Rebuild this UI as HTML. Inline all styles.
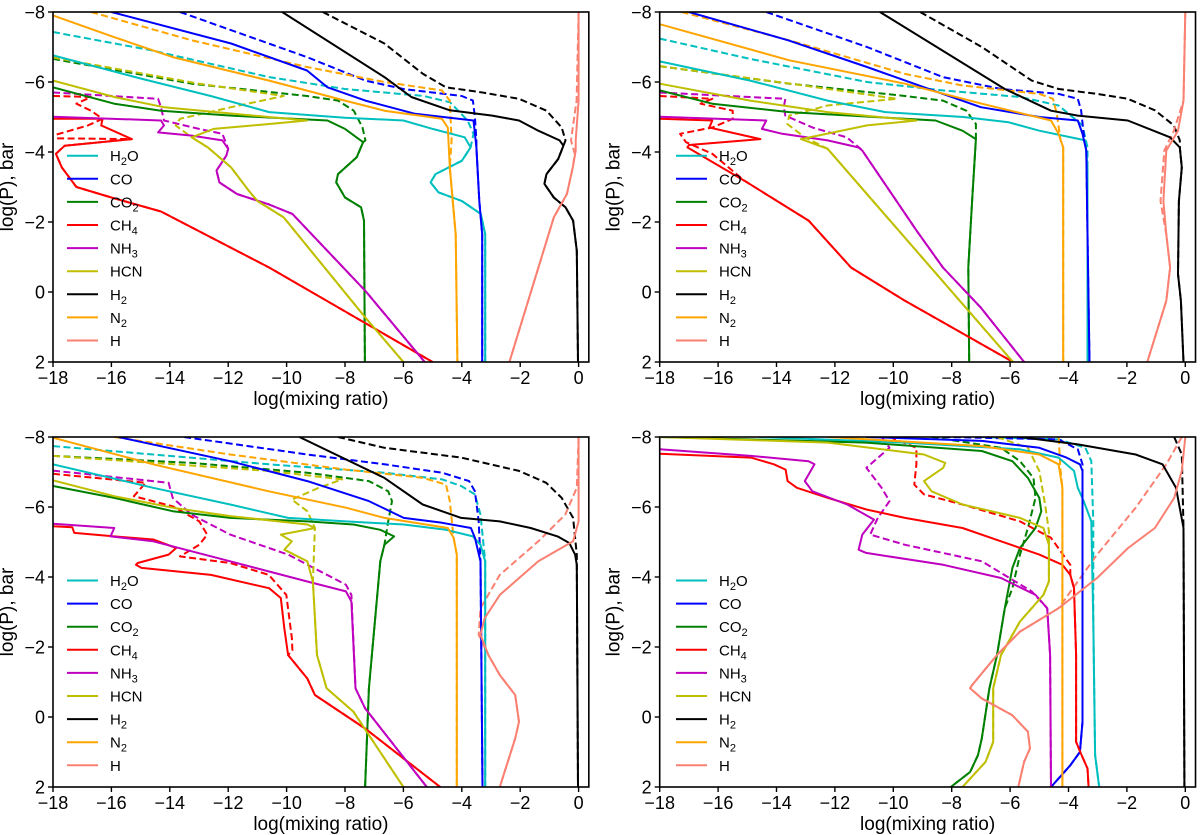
<!DOCTYPE html>
<html><head><meta charset="utf-8"><style>
html,body{margin:0;padding:0;background:#fff;}
svg{display:block;font-family:"Liberation Sans",sans-serif;}
</style></head><body>
<svg id="fig" width="1200" height="835" viewBox="0 0 1200 835"></svg>
<script>
const speciesNames = ['H2O','CO','CO2','CH4','NH3','HCN','H2','N2','H'];
const speciesColors = ['#00bfbf','#0000ff','#008000','#ff0000','#bf00bf','#bfbf00','#000000','#ffa500','#fa8072'];
const xTicks = [-18,-16,-14,-12,-10,-8,-6,-4,-2,0];
const yTicks = [-8,-6,-4,-2,0,2];

const aSolid = {
H2O:[[-18,-6.76],[-15,-6.1],[-12.6,-5.6],[-10.6,-5.14],[-8,-4.98],[-6,-4.9],[-5,-4.66],[-3.9,-4.42],[-3.7,-4.13],[-4,-3.75],[-4.9,-3.37],[-5.07,-3.13],[-4.8,-2.85],[-4,-2.6],[-3.35,-2.23],[-3.2,-1.65],[-3.2,2]],
CO:[[-16,-8],[-11.9,-7.1],[-9.3,-6.33],[-8.6,-5.85],[-7.3,-5.47],[-5.6,-5.09],[-3.6,-4.9],[-3.5,-4.13],[-3.4,-2.6],[-3.3,-1.65],[-3.3,2]],
CO2:[[-18,-5.85],[-15.9,-5.38],[-14.3,-5.18],[-11.9,-5.04],[-8.6,-4.9],[-8,-4.66],[-7.38,-4.28],[-7.6,-3.85],[-8.24,-3.37],[-8.3,-3.13],[-8,-2.7],[-7.45,-2.42],[-7.35,-2.04],[-7.32,2]],
CH4:[[-18,-4.95],[-16.3,-4.95],[-16.35,-4.76],[-15.3,-4.37],[-17.6,-4.18],[-17.9,-3.95],[-17.7,-3.56],[-17.2,-3.0],[-16,-2.7],[-14.3,-2.3],[-10.6,-0.7],[-5,2]],
NH3:[[-18,-5.01],[-14.3,-4.9],[-14.2,-4.76],[-14.4,-4.56],[-13.25,-4.47],[-12.2,-4.33],[-12,-4.09],[-12.06,-3.9],[-12.4,-3.47],[-12.3,-3.13],[-11.7,-2.8],[-10.6,-2.5],[-9.8,-2.23],[-7.3,-0.03],[-5.27,2]],
HCN:[[-18,-6.04],[-15.9,-5.57],[-14.2,-5.28],[-11.9,-5.1],[-9.3,-4.9],[-10.6,-4.8],[-12.5,-4.66],[-13.25,-4.42],[-12.7,-4.13],[-11.9,-3.56],[-11.3,-2.9],[-11,-2.6],[-10.1,-2.13],[-7.3,0.73],[-6,2]],
H2:[[-10.15,-8],[-6.65,-6.14],[-5.73,-5.57],[-4.41,-5.19],[-2.96,-5.04],[-2.04,-4.9],[-1.38,-4.61],[-0.65,-4.33],[-0.52,-4.18],[-0.7,-3.8],[-1.1,-3.37],[-1.17,-3.09],[-0.85,-2.7],[-0.45,-2.42],[-0.19,-2.04],[-0.06,-1.18],[-0.02,2]],
N2:[[-18,-7.9],[-15.9,-7.28],[-13.9,-6.71],[-10.6,-6.04],[-8,-5.47],[-6.65,-5.18],[-4.68,-4.95],[-4.48,-4.7],[-4.41,-3.56],[-4.21,-1.65],[-4.15,2]],
H:[[0,-8],[0,-5.47],[-0.1,-4.33],[-0.1,-4.04],[-0.2,-3.56],[-0.4,-2.8],[-0.85,-2.13],[-2.37,2]]
};
const aDashed = {
H2O:[[-18,-7.43],[-14.6,-6.9],[-10.6,-6.14],[-8,-5.8],[-5.3,-5.6],[-4.4,-5.42],[-3.8,-4.9],[-3.6,-4.52],[-3.7,-4.13]],
CO:[[-13.65,-8],[-9.3,-6.71],[-7.3,-6.04],[-6,-5.8],[-4,-5.6],[-3.62,-5.47],[-3.55,-5.0],[-3.5,-4.33]],
CO2:[[-18,-6.66],[-13.25,-5.95],[-9.3,-5.6],[-8.24,-5.47],[-7.7,-5.18],[-7.4,-4.7],[-7.3,-4.33],[-7.38,-4.28]],
CH4:[[-18,-5.6],[-16.7,-5.57],[-17.2,-5.38],[-16.7,-5.18],[-16.3,-4.95],[-16.8,-4.76],[-18,-4.47],[-19,-4.4]],
NH3:[[-18,-5.7],[-14.4,-5.52],[-14.3,-5.28],[-14.2,-4.9],[-13,-4.66],[-12.2,-4.52],[-12,-4.09]],
HCN:[[-18,-6.7],[-13,-5.95],[-10.1,-5.6],[-11.9,-5.28],[-13.65,-4.95],[-13.8,-4.76],[-13.25,-4.42]],
H2:[[-8.76,-8],[-6.65,-7.1],[-5.33,-6.23],[-4.54,-5.85],[-3.36,-5.71],[-2.04,-5.52],[-1.1,-5.18],[-0.58,-4.7],[-0.45,-4.33],[-0.52,-4.18]],
N2:[[-16.7,-8],[-13.25,-7.19],[-9.3,-6.43],[-6.65,-6.0],[-4.68,-5.76],[-4.41,-5.47],[-4.35,-4.33],[-4.41,-3.56]],
H:[[0,-8],[-0.07,-5.47],[-0.2,-4.7],[-0.26,-4.33],[-0.13,-3.95],[-0.2,-3.56]]
};
const bSolid = {
H2O:[[-18,-6.59],[-14.9,-6.04],[-12.25,-5.47],[-10.27,-5.14],[-7.6,-5.0],[-6.05,-4.85],[-5,-4.61],[-3.42,-4.33],[-3.35,-3.56],[-3.35,2]],
CO:[[-17,-8],[-13.6,-7.19],[-10.9,-6.43],[-8.3,-5.66],[-7,-5.28],[-5,-5.0],[-3.68,-4.9],[-3.52,-4.52],[-3.39,-4.04],[-3.35,-1.65],[-3.28,2]],
CO2:[[-18,-5.76],[-16.2,-5.38],[-13.56,-5.14],[-8.55,-4.9],[-7.63,-4.61],[-7.17,-4.37],[-7.3,-2.6],[-7.43,-0.7],[-7.4,2]],
CH4:[[-18,-4.95],[-16.2,-4.9],[-16.3,-4.7],[-14.55,-4.37],[-17,-4.2],[-17.05,-4.13],[-15.1,-3.18],[-12.9,-2.04],[-11.45,-0.7],[-9.6,0.25],[-5.9,2]],
NH3:[[-18,-5.01],[-14.35,-4.9],[-14.5,-4.66],[-13.8,-4.52],[-12.25,-4.33],[-11.2,-4.13],[-11.06,-4.04],[-9.2,-1.75],[-8.3,-0.7],[-7,0.45],[-5.52,2]],
HCN:[[-18,-5.95],[-14.9,-5.47],[-12.25,-5.14],[-9.2,-4.9],[-10.9,-4.76],[-13.16,-4.37],[-12.25,-4.09],[-5.9,2]],
H2:[[-10.46,-8],[-6.18,-5.8],[-4.6,-5.18],[-3.68,-5.04],[-1.97,-4.9],[-0.52,-4.42],[-0.19,-4.13],[-0.12,-3.56],[-0.22,-2.6],[-0.25,-0.51],[-0.15,0.25],[-0.06,2]],
N2:[[-18,-7.65],[-13.56,-6.62],[-9.6,-5.95],[-6.97,-5.38],[-4.6,-4.9],[-4.34,-4.52],[-4.18,-4.13],[-4.18,2]],
H:[[0,-8],[-0.06,-5.47],[-0.25,-4.61],[-0.65,-4.04],[-0.75,-2.6],[-0.65,-1.65],[-0.52,-0.7],[-0.65,0.25],[-1.3,2]]
};
const bDashed = {
H2O:[[-18,-7.24],[-14.9,-6.66],[-10.9,-6.0],[-8.3,-5.76],[-5.65,-5.57],[-4.34,-5.33],[-3.52,-4.76],[-3.35,-4.13]],
CO:[[-14.35,-8],[-10.9,-7.0],[-8.3,-6.14],[-6.3,-5.8],[-4.34,-5.66],[-3.68,-5.52],[-3.57,-5.19],[-3.48,-4.52],[-3.39,-4.04]],
CO2:[[-18,-6.45],[-13.56,-5.95],[-9.6,-5.6],[-8.3,-5.47],[-7.5,-5.18],[-7.17,-4.8],[-7.17,-4.37]],
CH4:[[-18,-5.6],[-16.2,-5.52],[-16.6,-5.38],[-15.5,-5.18],[-15.5,-4.95],[-16.2,-4.7],[-17.3,-4.52],[-17.1,-4.28],[-16.2,-3.95]],
NH3:[[-18,-5.7],[-13.7,-5.52],[-13.75,-5.28],[-13.7,-5.04],[-12.77,-4.7],[-11.6,-4.42],[-11.12,-4.09]],
HCN:[[-18,-6.45],[-13.5,-5.95],[-9.87,-5.52],[-12.25,-5.33],[-13.56,-5.04],[-13.63,-4.8],[-13.03,-4.42],[-12.25,-4.09]],
H2:[[-9.08,-8],[-6.97,-7.0],[-5.26,-6.04],[-4.34,-5.8],[-3.02,-5.66],[-1.97,-5.52],[-1.04,-5.19],[-0.39,-4.76],[-0.19,-4.33],[-0.19,-4.13]],
N2:[[-17.25,-8],[-13.56,-7.19],[-9.6,-6.23],[-7.63,-5.9],[-5,-5.66],[-4.53,-5.52],[-4.4,-5.09],[-4.27,-4.33],[-4.18,-4.13]],
H:[[0,-8],[-0.06,-5.47],[-0.39,-4.61],[-0.72,-4.04],[-0.85,-2.6]]
};
const cSolid = {
H2O:[[-18,-7.22],[-14.57,-6.55],[-11.93,-6.07],[-9.95,-5.69],[-7.97,-5.59],[-5.99,-5.5],[-4.54,-5.35],[-3.62,-5.16],[-3.36,-4.92],[-3.2,-4.45],[-3.2,2]],
CO:[[-15.76,-8],[-11.93,-7.31],[-9.29,-6.74],[-7.18,-6.17],[-5.99,-5.69],[-4.67,-5.55],[-3.69,-5.4],[-3.55,-5.12],[-3.36,-4.45],[-3.29,2]],
CO2:[[-18,-6.6],[-15.9,-6.26],[-13.9,-5.88],[-11.93,-5.69],[-9.29,-5.59],[-7.71,-5.5],[-6.79,-5.35],[-6.32,-5.16],[-6.65,-4.92],[-6.79,-4.45],[-7.18,-0.82],[-7.31,2]],
CH4:[[-18,-5.45],[-17.34,-5.42],[-17.27,-5.26],[-15.9,-5.16],[-14.57,-5.07],[-13.78,-4.83],[-14.04,-4.64],[-15.1,-4.4],[-15.16,-4.35],[-14.97,-4.26],[-12.59,-4.06],[-10.6,-3.68],[-10.2,-3.4],[-10.08,-2.54],[-9.95,-1.77],[-9.29,-1.1],[-9.03,-0.63],[-7.31,0.33],[-4.74,2]],
NH3:[[-18,-5.52],[-15.9,-5.4],[-16.03,-5.16],[-14.57,-5.02],[-11.93,-4.45],[-9.29,-3.87],[-7.97,-3.59],[-7.78,-3.3],[-7.64,-0.82],[-7.31,-0.25],[-5.2,2]],
HCN:[[-18,-6.76],[-15.9,-6.31],[-13.9,-5.98],[-11.93,-5.74],[-9.29,-5.5],[-9.03,-5.4],[-10.2,-5.21],[-9.82,-5.02],[-10.08,-4.78],[-9.29,-4.45],[-9.1,-3.87],[-8.96,-1.77],[-8.63,-0.82],[-7.71,-0.15],[-6,2]],
H2:[[-9.56,-8],[-6.65,-6.83],[-5.34,-6.07],[-4.02,-5.69],[-2.7,-5.59],[-1.64,-5.4],[-0.72,-5.16],[-0.32,-4.97],[-0.12,-4.64],[-0.06,-4.35],[-0.02,2]],
N2:[[-18,-7.98],[-14.57,-7.22],[-10.61,-6.45],[-7.97,-5.98],[-6.65,-5.69],[-4.48,-5.4],[-4.28,-5.12],[-4.17,-4.64],[-4.17,2]],
H:[[0,-8],[0,-5.59],[-0.19,-5.02],[-1.38,-4.45],[-2.7,-3.49],[-3.22,-2.82],[-3.36,-2.35],[-3.09,-1.77],[-2.7,-1.2],[-2.17,-0.63],[-2.04,0.14],[-2.17,0.61],[-2.7,2]]
};
const cDashed = {
H2O:[[-18,-7.74],[-14.57,-7.5],[-10.61,-7.22],[-6.65,-6.98],[-4.67,-6.79],[-4.02,-6.6],[-3.55,-6.36],[-3.36,-5.78],[-3.2,-4.45]],
CO:[[-13.51,-8],[-9.29,-7.5],[-6.65,-7.22],[-4.67,-6.98],[-3.75,-6.74],[-3.55,-6.45],[-3.42,-5.59],[-3.36,-4.45]],
CO2:[[-18,-7.46],[-13.25,-7.26],[-9.29,-6.98],[-7.18,-6.74],[-6.52,-6.45],[-6.39,-6.17],[-6.52,-5.59],[-6.65,-4.92]],
CH4:[[-18,-6.95],[-14.83,-6.69],[-15.23,-6.31],[-13.9,-6.02],[-12.99,-5.59],[-12.72,-5.21],[-12.99,-4.92],[-13.65,-4.59],[-11.93,-4.4],[-10.61,-4.06],[-10.01,-3.49],[-9.82,-2.25],[-9.8,-1.9]],
NH3:[[-18,-7.04],[-14.04,-6.69],[-13.9,-6.26],[-13.25,-5.78],[-11.93,-5.21],[-9.95,-4.64],[-7.97,-3.78],[-7.78,-3.49],[-7.64,-0.82]],
HCN:[[-18,-7.46],[-10.61,-7.03],[-8.1,-6.79],[-8.9,-6.55],[-9.82,-6.21],[-9.29,-5.88],[-9.03,-5.4],[-9.1,-3.87]],
H2:[[-8.24,-8],[-6.65,-7.69],[-4.02,-7.41],[-2.04,-7.03],[-1.11,-6.69],[-0.58,-6.26],[-0.19,-5.69],[-0.06,-4.64]],
N2:[[-15.9,-8],[-11.93,-7.5],[-7.97,-7.07],[-5.33,-6.83],[-4.54,-6.64],[-4.41,-6.17],[-4.28,-5.12],[-4.17,-4.64]],
H:[[0,-8],[-0.06,-6.55],[-0.46,-5.78],[-1.38,-5.02],[-2.7,-4.06],[-3.36,-3.11],[-3.42,-2.35],[-3.09,-1.77]]
};
const dSolid = {
H2O:[[-14.6,-8],[-9.6,-7.84],[-5.66,-7.65],[-4.34,-7.41],[-3.81,-7.03],[-3.68,-6.55],[-3.48,-6.17],[-3.22,-5.59],[-3.15,-2.73],[-3.09,1.09],[-2.95,2]],
CO:[[-10.93,-8],[-6.97,-7.89],[-5,-7.69],[-4.07,-7.41],[-3.61,-7.22],[-3.52,-7.03],[-3.52,0.14],[-3.61,1.0],[-3.94,1.38],[-4.6,2]],
CO2:[[-18,-8],[-10.93,-7.84],[-6.97,-7.6],[-5.92,-7.31],[-5.39,-6.83],[-5,-6.26],[-4.93,-5.88],[-5.13,-5.4],[-5.66,-4.83],[-5.92,-4.26],[-6.18,-3.11],[-6.45,-1.77],[-6.71,-0.82],[-6.97,0.61],[-7.1,1.09],[-7.37,1.57],[-8.03,2]],
CH4:[[-18,-7.52],[-14.88,-7.41],[-14.09,-7.22],[-13.69,-7.07],[-13.62,-6.74],[-13.3,-6.55],[-12.24,-6.26],[-10.92,-5.93],[-9.6,-5.69],[-7.63,-5.4],[-6.31,-5.02],[-5,-4.64],[-4.21,-4.35],[-3.94,-4.06],[-3.81,-3.68],[-3.74,-1.77],[-3.74,0.71],[-3.55,1.09],[-3.35,1.47],[-3.31,2]],
NH3:[[-18,-7.65],[-14.88,-7.46],[-12.9,-7.31],[-12.7,-7.22],[-13.03,-6.74],[-12.77,-6.45],[-11.58,-6.07],[-10.66,-5.64],[-11.06,-5.21],[-11.19,-4.78],[-10.93,-4.69],[-8.29,-4.35],[-6.31,-3.97],[-5.13,-3.49],[-4.73,-3.11],[-4.63,-1.77],[-4.6,2]],
HCN:[[-18,-8],[-12.24,-7.84],[-8.95,-7.5],[-8.22,-7.26],[-8.29,-7.12],[-8.95,-6.74],[-8.69,-6.45],[-7.63,-6.07],[-5.66,-5.69],[-4.86,-5.4],[-4.67,-4.92],[-4.67,-3.87],[-4.86,-3.49],[-5.66,-2.73],[-6.31,-1.77],[-6.58,-0.82],[-6.58,0.71],[-6.84,1.28],[-7.63,2]],
H2:[[-5.66,-8],[-3.68,-7.79],[-1.7,-7.5],[-0.78,-7.22],[-0.32,-6.55],[-0.06,-5.4],[-0.03,2]],
N2:[[-12.24,-8],[-6.97,-7.74],[-5,-7.5],[-4.34,-7.22],[-4.21,-6.55],[-4.21,2]],
H:[[0,-8],[-0.12,-7.03],[-0.38,-6.26],[-1.04,-5.4],[-1.96,-4.83],[-3.02,-3.97],[-4.34,-3.11],[-5.66,-2.44],[-6.45,-1.77],[-7.3,-0.91],[-7.37,-0.82],[-6.97,-0.53],[-5.92,-0.05],[-5.39,0.42],[-5.32,0.9],[-5.52,1.28],[-5.72,2]]
};
const dDashed = {
H2O:[[-6.97,-8],[-4.34,-7.93],[-3.42,-7.69],[-3.22,-7.31],[-3.15,-5.59]],
CO:[[-8.29,-8],[-4.34,-7.93],[-3.68,-7.65],[-3.52,-7.22]],
CO2:[[-8.69,-8],[-6.31,-7.69],[-5.66,-7.31],[-5.2,-6.83],[-5.13,-6.26],[-5.39,-5.4],[-5.66,-4.64],[-5.92,-3.68],[-6.18,-3.11]],
CH4:[[-10.13,-8],[-9.21,-7.69],[-9.21,-7.22],[-9.28,-6.64],[-8.95,-6.36],[-7.63,-6.07],[-5.66,-5.59],[-4.6,-5.12],[-3.94,-4.35],[-3.94,-4.06]],
NH3:[[-10.4,-8],[-10.13,-7.69],[-10.92,-7.12],[-10.4,-6.55],[-10.13,-6.17],[-10.53,-5.69],[-10.79,-5.21],[-9.6,-4.92],[-6.97,-4.45],[-5.26,-3.59],[-4.73,-3.11]],
HCN:[[-6.45,-8],[-5.39,-7.69],[-5,-7.03],[-4.8,-6.07],[-4.67,-5.31],[-4.67,-4.92]],
H2:[[-0.38,-8],[-0.12,-7.5],[-0.06,-5.4]],
N2:[[-4.34,-8],[-4.27,-7.03],[-4.21,-6.55]],
H:[[-0.12,-8],[-0.65,-7.22],[-1.7,-5.98],[-3.02,-4.64],[-4.34,-3.11]]
};

const panelLayout = [
 {name:'top-left', solid:aSolid, dashed:aDashed, x0:53, xz:578.6, top:12, legX:67, legY:155.7},
 {name:'top-right', solid:bSolid, dashed:bDashed, x0:659.7, xz:1185.3, top:12, legX:676, legY:155.7},
 {name:'bottom-left', solid:cSolid, dashed:cDashed, x0:53, xz:578.6, top:437, legX:67, legY:580.5},
 {name:'bottom-right', solid:dSolid, dashed:dDashed, x0:659.7, xz:1185.3, top:437, legX:676, legY:580.5}
];
const NS='http://www.w3.org/2000/svg';
const svg=document.getElementById('fig');
function mk(tag,attrs,parent){const e=document.createElementNS(NS,tag);for(const k in attrs)e.setAttribute(k,attrs[k]);(parent||svg).appendChild(e);return e;}
const H=350, XMAX=0.35;
function subLabel(t,name){
  const m=name.match(/^([A-Z]+)(\d)(.*)$/);
  if(!m){t.textContent=name;return;}
  t.appendChild(document.createTextNode(m[1]));
  const s=document.createElementNS(NS,'tspan');s.setAttribute('font-size','11');s.setAttribute('dy','4');s.textContent=m[2];t.appendChild(s);
  if(m[3]){const r=document.createElementNS(NS,'tspan');r.setAttribute('dy','-4');r.textContent=m[3];t.appendChild(r);}
}
panelLayout.forEach((pl,pi)=>{
  const kx=(pl.xz-pl.x0)/18;
  const sx=v=>pl.x0+(v+18)*kx;
  const sy=p=>pl.top+(p+8)*H/10;
  const right=sx(XMAX);
  const g=mk('g',{});
  
  
  const cp=mk('clipPath',{id:'clip'+pi},g);
  mk('rect',{x:pl.x0,y:pl.top,width:right-pl.x0,height:H},cp);
  const lines=mk('g',{'clip-path':'url(#clip'+pi+')'},g);
  speciesNames.forEach((sp,si)=>{
    const sol=pl.solid[sp], da=pl.dashed[sp];
    const lastP=da[da.length-1][1];
    const full=da.concat(sol.filter(pt=>pt[1]>lastP));
    const dp=mk('path',{d:'M'+full.map(pt=>sx(pt[0]).toFixed(1)+','+sy(pt[1]).toFixed(1)).join('L'),fill:'none',stroke:speciesColors[si],'stroke-width':2,'stroke-dasharray':'7,3.5','stroke-linejoin':'round'},lines);
    
    
  });
  speciesNames.forEach((sp,si)=>{
    const sol=pl.solid[sp];
    const sp2=mk('path',{d:'M'+sol.map(pt=>sx(pt[0]).toFixed(1)+','+sy(pt[1]).toFixed(1)).join('L'),fill:'none',stroke:speciesColors[si],'stroke-width':2,'stroke-linejoin':'round'},lines);
    
    
  });
  const frame=mk('rect',{x:pl.x0,y:pl.top,width:right-pl.x0,height:H,fill:'none',stroke:'#000','stroke-width':1.6},g);
  
  
  xTicks.forEach(v=>{
    const x=sx(v);
    mk('line',{x1:x,x2:x,y1:pl.top+H,y2:pl.top+H+5,stroke:'#000','stroke-width':1.4},g);
    const t=mk('text',{x:x,y:pl.top+H+22,'text-anchor':'middle','font-size':18},g);
    t.textContent=(v<0?'\u2212':'')+Math.abs(v);
    
    
  });
  yTicks.forEach(v=>{
    const y=sy(v);
    mk('line',{x1:pl.x0-5,x2:pl.x0,y1:y,y2:y,stroke:'#000','stroke-width':1.4},g);
    const t=mk('text',{x:pl.x0-8,y:y+6.5,'text-anchor':'end','font-size':18},g);
    t.textContent=(v<0?'\u2212':'')+Math.abs(v);
    
    
  });
  const xt=mk('text',{x:(pl.x0+right)/2,y:pl.top+H+43,'text-anchor':'middle','font-size':19},g);
  xt.textContent='log(mixing ratio)';
  
  
  const yx=pl.x0-40, yc=pl.top+H/2;
  const yt=mk('text',{x:yx,y:yc,'text-anchor':'middle','font-size':19,transform:'rotate(-90 '+yx+' '+yc+')'},g);
  yt.textContent='log(P), bar';
  
  
  const leg=mk('g',{},g);
  
  
  speciesNames.forEach((sp,si)=>{
    const y=pl.legY+si*23.1;
    const e=mk('g',{},leg);
    
    
    mk('line',{x1:pl.legX,x2:pl.legX+31,y1:y,y2:y,stroke:speciesColors[si],'stroke-width':2},e);
    const t=mk('text',{x:pl.legX+43,y:y+5.5,'font-size':15},e);
    subLabel(t,sp);
  });
});
</script>
</body></html>
